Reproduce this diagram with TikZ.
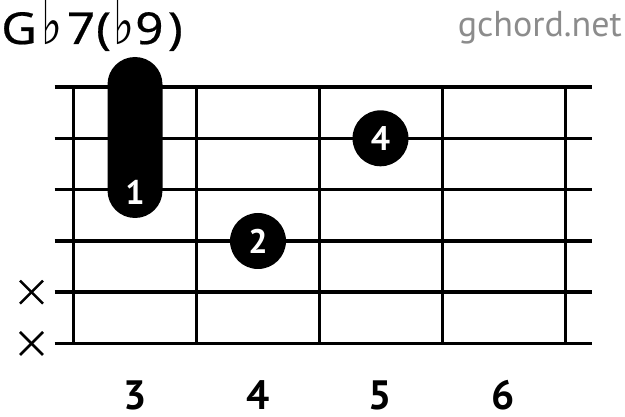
\documentclass[tikz,border=0pt]{standalone}
\usepackage{fontspec}
\usetikzlibrary{calc}
\setmainfont{PT Sans}
\newfontfamily\titlefont[FakeBold=0.5]{Noto Sans}
\newfontfamily\symfont{DejaVu Sans}
\newcommand{\flatsym}{\raisebox{-1pt}{\scalebox{0.9}[1.45]{\symfont\fontsize{44}{44}\selectfont ♭}}}
\begin{document}
\begin{tikzpicture}[x=1pt,y=-1pt,
  stringline/.style={line width=3.5pt},
  fretline/.style={line width=3pt},
  fingerdot/.style={circle,fill=black,minimum size=56pt,inner sep=0pt,text=white,font=\bfseries\fontsize{34}{34}\selectfont},
  fingerlabel/.style={text=white,inner sep=0pt,font=\bfseries\fontsize{34}{34}\selectfont},
  fretnum/.style={inner sep=0pt,font=\bfseries\fontsize{41}{41}\selectfont},
  mutemark/.style={line width=2.5pt}]
\useasboundingbox (0,0) rectangle (625,417);
% strings
\foreach \i in {0,...,5}{
  \draw[stringline] (54.5,{87+51.3*\i}) -- (591.5,{87+51.3*\i});
}
% frets
\foreach \i in {0,...,4}{
  \draw[fretline] ({73.5+123.1*\i},87) -- ({73.5+123.1*\i},343.5);
}
% barre
\fill[rounded corners=27.5pt] (107.5,57) rectangle (162.5,218);
\node[fingerlabel] (f1) at (135,192) {1};
% dots
\node[fingerdot] (f2) at (258,241) {2};
\node[fingerdot] (f4) at (380.5,138.3) {4};
% mute marks
\foreach \y [count=\k] in {292.2,343.5}{
  \coordinate (m\k) at (31.5,\y);
  \draw[mutemark] ($(m\k)+(-11.5,-11.5)$) -- ($(m\k)+(11.5,11.5)$);
  \draw[mutemark] ($(m\k)+(-11.5,11.5)$) -- ($(m\k)+(11.5,-11.5)$);
}
% fret numbers
\node[fretnum] (n3) at (135,395) {3};
\node[fretnum] (n4) at (258,395) {4};
\node[fretnum] (n5) at (380.5,395) {5};
\node[fretnum] (n6) at (503,395) {6};
% title
\node[anchor=base west,inner sep=0pt,font=\titlefont\fontsize{44}{44}\selectfont] (title) at (1,44) {\scalebox{1.12}[1]{G\kern4pt\flatsym\kern4pt 7\kern1pt(\kern2pt\flatsym\kern1pt 9\kern4pt)}};
\node[anchor=base east,inner sep=0pt,text={rgb,255:red,140;green,140;blue,140},font=\fontsize{36}{36}\selectfont] (site) at (622,37) {gchord.net};
\end{tikzpicture}
\end{document}
